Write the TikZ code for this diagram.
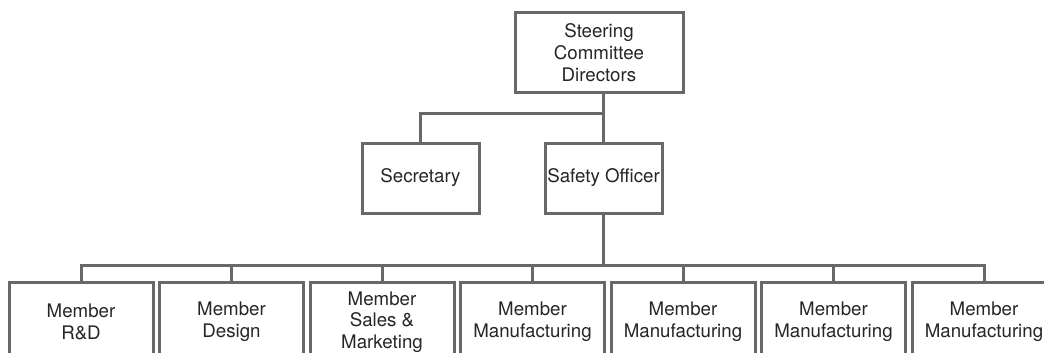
\documentclass[tikz,border=0pt]{standalone}
\usepackage{fontspec}
\setsansfont{TeX Gyre Heros}
\usetikzlibrary{positioning}
\definecolor{linegray}{RGB}{104, 104, 104}
\definecolor{textgray}{RGB}{38, 38, 38}
\tikzset{
    role/.style = {rectangle, draw=linegray, line width=3pt, fill=white, text=textgray, align=center, inner sep=0pt, font=\sffamily\fontsize{18.7}{21.7}\selectfont},
    head/.style = {role, minimum width=168pt, minimum height=79pt},
    staff/.style = {role, minimum width=117pt, minimum height=70pt},
    member/.style = {role, minimum width=144pt, minimum height=80pt},
    link/.style = {draw=linegray, line width=3pt}
}

\begin{document}
\begin{tikzpicture}[x=1pt, y=-1pt, node distance=3.5pt]
  \clip (0,0) rectangle (1044,353);

  % committee and its two direct reports
  \node[head] (steer) at (599,52.5) {Steering\\Committee\\Directors};
  \node[staff] (sec) at (420.5,178) {Secretary};
  \node[staff] (safety) at (603.5,178) {Safety Officer};

  % member row, runs off the right edge
  \node[member] (m1) at (81,322) {Member\\R\&D};
  \node[member, right=of m1] (m2) {Member\\Design};
  \node[member, right=of m2] (m3) {Member\\Sales \&\\Marketing};
  \node[member, right=of m3] (m4) {Member\\Manufacturing};
  \node[member, right=of m4] (m5) {Member\\Manufacturing};
  \node[member, right=of m5] (m6) {Member\\Manufacturing};
  \node[member, right=of m6] (m7) {Member\\Manufacturing};

  % connectors
  \coordinate (fork) at (safety.north |- 0,113);
  \coordinate (bus) at (safety.south |- 0,265);
  \draw[link] (steer.south -| safety.north) -- (safety.north);
  \draw[link] (sec.north) |- (fork);
  \draw[link] (safety.south) -- (bus);
  \foreach \m in {m1,m2,m3,m4,m5,m6,m7}
    \draw[link] (\m.north) |- (bus);
\end{tikzpicture}
\end{document}
